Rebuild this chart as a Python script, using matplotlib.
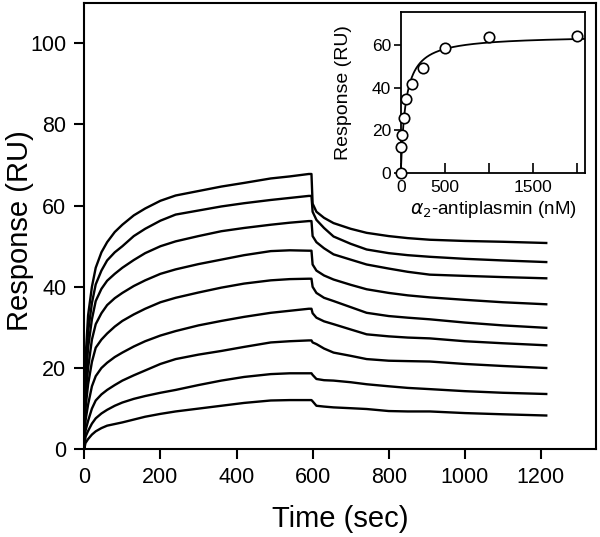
import numpy as np
import matplotlib
matplotlib.use("Agg")
import matplotlib.pyplot as plt

plt.rcParams['font.family'] = ['Liberation Sans', 'DejaVu Sans']

# ---- main sensorgram data (time in s, response in RU) ----
times = [0, 3, 10, 20, 30, 45, 60, 80, 100, 130, 160, 200, 240, 300, 360, 420,
         490, 540, 590, 597, 600, 610, 630, 655, 700, 742, 800, 850, 908, 1000,
         1100, 1214]
resp_1 = [0, 22, 33, 40, 44.7, 48.5, 51, 53.5, 55.3, 57.6, 59.3, 61.2, 62.5, 63.6, 64.7, 65.6, 66.7, 67.2, 67.8, 67.8, 60.5, 58.5, 57.0, 55.7, 54.3, 53.3, 52.5, 52.0, 51.6, 51.3, 51.1, 50.8]
resp_2 = [0, 19, 29, 36, 40.6, 44, 46.5, 48.5, 50.0, 52.5, 54.3, 56.3, 57.8, 58.8, 59.8, 60.6, 61.4, 61.9, 62.4, 62.4, 58.5, 56.5, 54.5, 52.4, 50.6, 49.2, 48.3, 47.8, 47.4, 46.9, 46.5, 46.1]
resp_3 = [0, 16, 25, 32, 36.5, 39.5, 41.5, 43.2, 44.7, 46.6, 48.3, 50.0, 51.2, 52.5, 53.7, 54.5, 55.3, 55.8, 56.2, 56.2, 52.5, 51.0, 49.5, 48.0, 46.7, 45.5, 44.5, 43.7, 43.0, 42.7, 42.4, 42.1]
resp_4 = [0, 13, 20, 27, 30.8, 33.5, 35.5, 37.2, 38.5, 40.2, 41.6, 43.2, 44.3, 45.6, 46.7, 47.8, 48.8, 49.0, 48.9, 48.9, 45.5, 44.0, 42.8, 41.8, 40.5, 39.4, 38.5, 37.9, 37.4, 36.8, 36.2, 35.7]
resp_5 = [0, 10, 16, 21.5, 25.0, 27.0, 28.5, 30.2, 31.6, 33.2, 34.6, 36.2, 37.3, 38.6, 39.8, 40.8, 41.6, 41.9, 42.0, 42.0, 40.0, 38.5, 37.3, 36.5, 35.0, 33.6, 32.8, 32.4, 32.0, 31.2, 30.5, 29.9]
resp_6 = [0, 7, 11, 15.5, 18.0, 20.0, 21.3, 22.7, 23.8, 25.3, 26.6, 28.0, 29.1, 30.5, 31.6, 32.6, 33.6, 34.1, 34.6, 34.6, 33.5, 32.4, 31.5, 30.8, 29.5, 28.3, 27.8, 27.5, 27.3, 26.6, 26.1, 25.6]
resp_7 = [0, 4.5, 7, 10, 12.0, 13.5, 14.6, 15.8, 16.9, 18.2, 19.4, 21.0, 22.2, 23.3, 24.2, 25.2, 26.3, 26.6, 26.8, 26.8, 26.3, 25.9, 24.8, 23.8, 23.0, 22.2, 21.8, 21.7, 21.6, 21.0, 20.5, 20.0]
resp_8 = [0, 3, 4.5, 6.3, 7.6, 8.8, 9.7, 10.7, 11.5, 12.4, 13.1, 13.9, 14.6, 15.8, 16.9, 17.8, 18.5, 18.7, 18.7, 18.7, 18.3, 17.3, 17.0, 16.9, 16.5, 16.0, 15.5, 15.1, 14.8, 14.3, 13.9, 13.6]
resp_9 = [0, 1.5, 2.5, 3.6, 4.4, 5.2, 5.8, 6.2, 6.6, 7.3, 8.0, 8.7, 9.3, 10.0, 10.7, 11.4, 12.0, 12.1, 12.1, 12.1, 11.8, 10.7, 10.5, 10.3, 10.1, 9.9, 9.4, 9.3, 9.3, 8.9, 8.6, 8.3]
curves = [resp_1, resp_2, resp_3, resp_4, resp_5, resp_6, resp_7, resp_8, resp_9]

main_xticks = [0, 200, 400, 600, 800, 1000, 1200]
main_yticks = [0, 20, 40, 60, 80, 100]

# ---- inset: steady-state binding ----
conc_nM = [0, 7.8, 15.6, 31.25, 62.5, 125, 250, 500, 1000, 2000]
resp_eq = [0, 12.2, 17.8, 25.6, 34.5, 41.5, 49.0, 58.4, 63.6, 64.4]
fit_Rmax = 64.5
fit_KD = 55.0
inset_xticks = [0, 500, 1000, 1500, 2000]
inset_xticklabels = ['0', '500', '', '1500', '']
inset_yticks = [0, 20, 40, 60]

fig = plt.figure(figsize=(6.0, 5.37), dpi=100)
ax = fig.add_axes([0.1405, 0.1635, 0.853, 0.8315])
for r in curves:
    ax.plot(times, r, color='black', lw=1.7, solid_joinstyle='round')
ax.set_xlim(0, 1345)
ax.set_ylim(0, 110)
ax.set_xticks(main_xticks)
ax.set_yticks(main_yticks)
ax.tick_params(direction='out', length=7, width=1.5, labelsize=15.5, pad=6)
for s in ax.spines.values():
    s.set_linewidth(1.5)
ax.set_xlabel('Time (sec)', fontsize=21)
ax.xaxis.set_label_coords(0.5, -0.125)
ax.set_ylabel('Response (RU)', fontsize=21)
ax.yaxis.set_label_coords(-0.098, 0.49)

ins = fig.add_axes([0.668, 0.678, 0.3075, 0.2998])
xf = np.linspace(0, 2100, 400)
ins.plot(xf, fit_Rmax * xf / (fit_KD + xf), color='black', lw=1.3)
ins.plot(conc_nM, resp_eq, 'o', ms=7.5, mfc='white', mec='black', mew=1.2,
         clip_on=False, zorder=5)
ins.set_xlim(0, 2100)
ins.set_ylim(0, 75.5)
ins.set_xticks(inset_xticks)
ins.set_xticklabels(inset_xticklabels)
ins.set_yticks(inset_yticks)
ins.tick_params(axis='x', direction='in', length=7, width=1.2, labelsize=12.5, pad=5)
ins.tick_params(axis='y', direction='out', length=5, width=1.2, labelsize=12.5, pad=2)
for s in ins.spines.values():
    s.set_linewidth(1.3)
ins.set_xlabel(r'$\alpha_2$-antiplasmin (nM)', fontsize=13.5, labelpad=3)
ins.set_ylabel('Response (RU)', fontsize=14)
ins.yaxis.set_label_coords(-0.265, 0.5)

fig.savefig('out.png', dpi=100)
